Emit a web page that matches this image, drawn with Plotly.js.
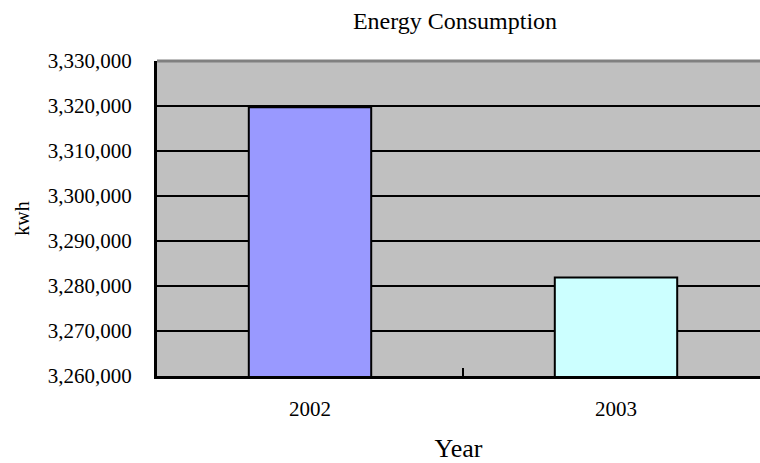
<!DOCTYPE html>
<html>
<head>
<meta charset="utf-8">
<script src="https://cdn.plot.ly/plotly-3.0.1.min.js"></script>
<style>html,body{margin:0;padding:0;background:#fff;}#chart{width:760px;height:463px;}</style>
</head>
<body>
<div id="chart"></div>
<script>
const years = ['2002', '2003'];
const consumption = [3319700, 3281900];
const barColors = ['#9999FF', '#CCFFFF'];
const chartTitle = 'Energy Consumption';
const xTitle = 'Year';
const yTitle = 'kwh';

const FONT = 'Liberation Serif, Times New Roman, serif';

const trace = {
  type: 'bar',
  x: years,
  y: consumption,
  width: 0.4,
  marker: { color: barColors, line: { color: '#000', width: 2 } },
  hoverinfo: 'x+y'
};

const layout = {
  width: 760,
  height: 463,
  margin: { l: 157, r: 0, t: 61, b: 87 },
  paper_bgcolor: '#ffffff',
  plot_bgcolor: '#C0C0C0',
  showlegend: false,
  font: { family: FONT, color: '#000', size: 21 },
  title: {
    text: chartTitle,
    font: { family: FONT, size: 24, color: '#000' },
    x: 455 / 760, xref: 'container', xanchor: 'center',
    y: 1 - 21 / 463, yref: 'container', yanchor: 'middle'
  },
  xaxis: {
    type: 'category',
    range: [-0.5, 1.4706],
    showgrid: false,
    zeroline: false,
    showline: true,
    linecolor: '#000',
    linewidth: 3,
    ticks: 'inside',
    tickson: 'boundaries',
    ticklen: 8,
    tickwidth: 2,
    tickcolor: '#000',
    ticklabelstandoff: 12,
    tickfont: { family: FONT, size: 21, color: '#000' },
    title: { text: xTitle, font: { family: FONT, size: 26, color: '#000' }, standoff: 27 }
  },
  yaxis: {
    range: [3260000, 3330000],
    dtick: 10000,
    tickformat: ',d',
    showgrid: true,
    gridcolor: '#000',
    gridwidth: 2,
    zeroline: false,
    showline: true,
    linecolor: '#000',
    linewidth: 3,
    ticks: 'inside',
    ticklen: 8,
    tickwidth: 2,
    tickcolor: '#000',
    ticklabelstandoff: 18,
    tickfont: { family: FONT, size: 21, color: '#000' },
    title: { text: yTitle, font: { family: FONT, size: 20, color: '#000' }, standoff: 13 }
  },
  shapes: [
    { type: 'line', xref: 'paper', yref: 'paper', x0: 0, x1: 1, y0: 1, y1: 1,
      line: { color: '#808080', width: 3 }, layer: 'above' }
  ]
};

Plotly.newPlot('chart', [trace], layout, { displayModeBar: false, staticPlot: true });
</script>
</body>
</html>
